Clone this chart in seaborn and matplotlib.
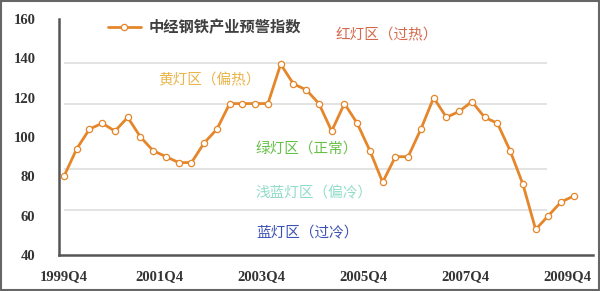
import matplotlib
matplotlib.use("Agg")
import matplotlib.pyplot as plt
import seaborn as sns
import pandas as pd
import numpy as np
from matplotlib.patches import Rectangle

# ---- data ----
quarters = []
for y in range(1999, 2010):
    for q in range(1, 5):
        quarters.append(f"{y}Q{q}")
quarters = quarters[quarters.index("1999Q4"):quarters.index("2009Q4") + 1]

index_values = [80, 94, 104, 107, 103, 110, 100, 93, 90, 87,
                87, 97, 104, 117, 117, 117, 117, 137, 127, 124,
                117, 103, 117, 107, 93, 77, 90, 90, 104, 120,
                110, 113, 118, 110, 107, 93, 76, 53, 60, 67, 70]

series_name = "中经钢铁产业预警指数"
tick_labels = ["1999Q4", "2001Q4", "2003Q4", "2005Q4", "2007Q4", "2009Q4"]

zone_names = ["红灯区（过热）", "黄灯区（偏热）", "绿灯区（正常）", "浅蓝灯区（偏冷）", "蓝灯区（过冷）"]
zone_colors = ["#d4684c", "#e9b448", "#66c046", "#8fdcc8", "#3b50b4"]
zone_boundaries = [137.5, 117, 83.5, 63]

df = pd.DataFrame({"pos": np.arange(len(quarters)), "quarter": quarters, "value": index_values})

# ---- plot ----
sns.set_style("white")
plt.rcParams['font.family'] = ['Noto Sans CJK SC', 'DejaVu Sans']

fig = plt.figure(figsize=(6.0, 2.91), dpi=100)
ax = fig.add_axes([59/600, 36/291, (593-59)/600, 236/291])

for b in zone_boundaries:
    ax.hlines(b, 0, 37.9, color="#e2e4e2", lw=1.4, zorder=1)

sns.lineplot(data=df, x="pos", y="value", ax=ax, color="#e6862a", lw=2.0,
             marker="o", markersize=4.5, markerfacecolor="white",
             markeredgecolor="#e6862a", markeredgewidth=0.9,
             label=series_name, zorder=3)

ax.set_xlim(-0.39, 41.5)
ax.set_ylim(40, 160)
ax.set_yticks(np.arange(40, 161, 20))
ax.set_xlabel("")
ax.set_ylabel("")

# x tick labels (major, no tick marks) and tick marks (minor)
label_pos = [0] + [7.5 + 8 * k for k in range(len(tick_labels) - 1)]
ax.set_xticks(label_pos)
ax.set_xticklabels(tick_labels)
ax.set_xticks(np.arange(3.5, 40, 4), minor=True)
ax.tick_params(axis="x", which="major", length=0, pad=11)
ax.tick_params(axis="x", which="minor", length=4, width=1.2, direction="in", color="#555555")
ax.tick_params(axis="y", length=4, width=1.2, direction="in", color="#555555", pad=17)

for lab in ax.get_xticklabels() + ax.get_yticklabels():
    lab.set_family("Liberation Serif")
    lab.set_fontweight("bold")
    lab.set_fontsize(10.5)
    lab.set_color("#333333")

for s in ["top", "right"]:
    ax.spines[s].set_visible(False)
for s in ["left", "bottom"]:
    ax.spines[s].set_color("#555555")
    ax.spines[s].set_linewidth(1.8)

# zone annotations
zone_xy = [(21.3, 151.8), (7.4, 129), (15.0, 93.9), (15.0, 71.5), (15.1, 51.2)]
for name, col, (x, y) in zip(zone_names, zone_colors, zone_xy):
    ax.text(x, y, name, color=col, fontsize=10.5, va="center", ha="left", zorder=2)

leg = ax.legend(loc="center left", bbox_to_anchor=(100/600, 1 - 27/291),
                bbox_transform=fig.transFigure, frameon=False, borderpad=0,
                handlelength=2.2, handletextpad=0.45, fontsize=11)
for t in leg.get_texts():
    t.set_color("#404040")
    t.set_fontweight("bold")

fig.patches.append(Rectangle((0.002, 0.003), 0.996, 0.994, transform=fig.transFigure,
                             fill=False, edgecolor="#666666", lw=1.5))

fig.savefig("out.png", dpi=100)
